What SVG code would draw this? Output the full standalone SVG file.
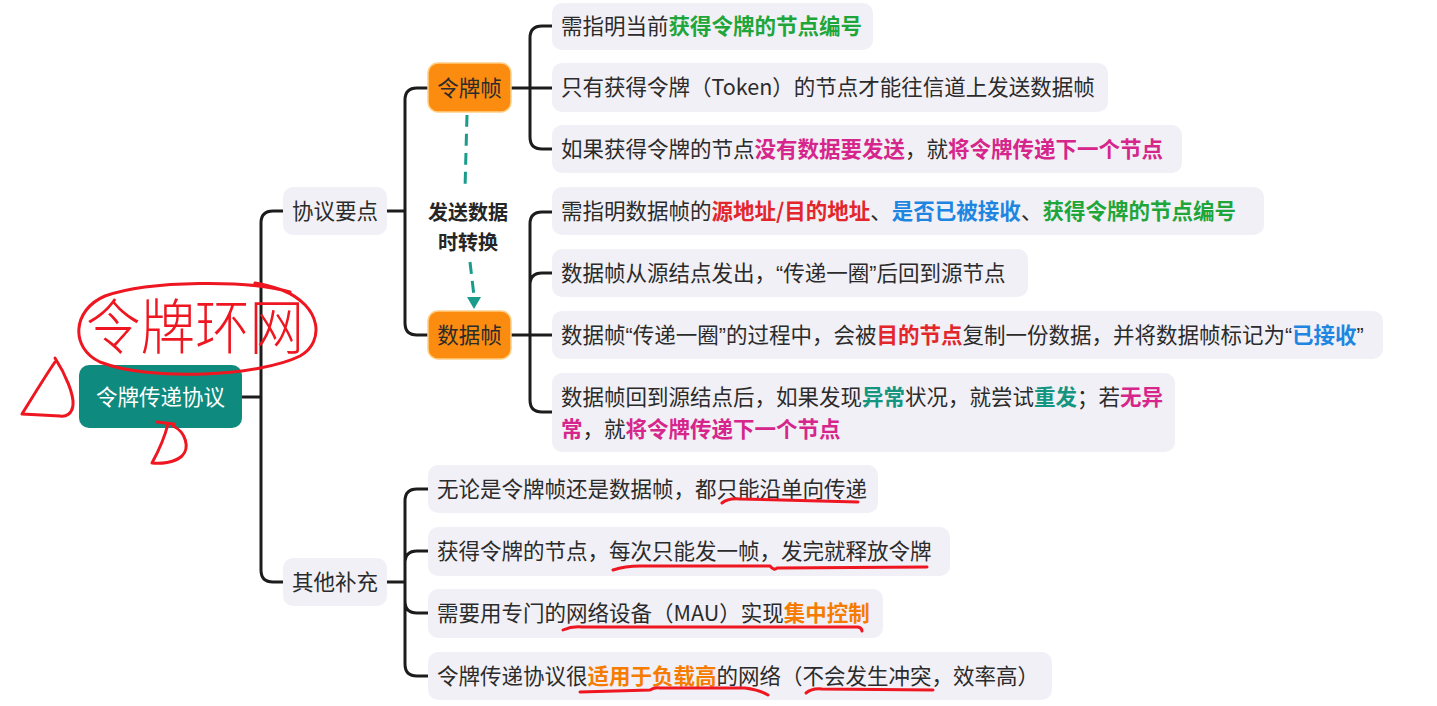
<svg xmlns="http://www.w3.org/2000/svg" width="1437" height="706" viewBox="0 0 1437 706">
<style>
  text { font-family: "Noto Sans CJK SC", "Noto Sans", sans-serif; font-size: 21.5px; fill: #2b2b2b; }
  .q { font-family: "Liberation Sans", "Noto Sans", sans-serif; }
  .box { fill: #f1f0f6; }
  .frame { fill: #fb8c10; stroke: #ffcf85; stroke-width: 1.5; }
  .root { fill: #0f8a7e; }
  .conn { fill: none; stroke: #1c1c1c; stroke-width: 3; stroke-linecap: round; stroke-linejoin: round; }
  .dash { fill: none; stroke: #1a9c8c; stroke-width: 3; stroke-dasharray: 12 7; }
  .ink { fill: none; stroke: #ee1620; stroke-width: 3; stroke-linecap: round; stroke-linejoin: round; }
  .g { fill: #1fa63a; font-weight: 700; }
  .m { fill: #d6268b; font-weight: 700; }
  .r { fill: #e3262c; font-weight: 700; }
  .b { fill: #1e86e0; font-weight: 700; }
  .t { fill: #14957f; font-weight: 700; }
  .o { fill: #f57c00; font-weight: 700; }
  .c { text-anchor: middle; }
</style>

<g id="connectors">
  <path class="conn" d="M241,397 H261 M261,397 V223 Q261,211 273,211 H283 M261,397 V570 Q261,582 273,582 H283"/>
  <path class="conn" d="M387,211 H405 M405,211 V100 Q405,88 417,88 H428 M405,211 V323 Q405,335 417,335 H428"/>
  <path class="conn" d="M511,88 H552 M530,88 V38 Q530,26 542,26 H552 M530,88 V137 Q530,149 542,149 H552"/>
  <path class="conn" d="M511,335 H552 M530,335 V224 Q530,212 542,212 H552 M530,335 V285 Q530,273 542,273 H552 M530,335 V400 Q530,412 542,412 H552"/>
  <path class="conn" d="M387,582 H405 M405,582 V501 Q405,489 417,489 H428 M405,582 V563 Q405,551 417,551 H428 M405,582 V601 Q405,613 417,613 H428 M405,582 V664 Q405,676 417,676 H428"/>
  <g id="switch-arrow">
    <path class="dash" d="M467,115 Q466,150 465,190"/>
    <path class="dash" d="M470,262 L474,296"/>
    <polygon points="467,297 481,297 474,309" fill="#1a9c8c"/>
    <text x="468" y="220" class="c" style="font-size:20px;font-weight:700;fill:#262626">发送数据</text>
    <text x="468" y="250" class="c" style="font-size:20px;font-weight:700;fill:#262626">时转换</text>
  </g>
</g>

<g id="root">
  <rect class="root" x="79" y="365" width="163" height="63" rx="10"/>
  <text x="160.5" y="405" class="c" style="fill:#ffffff">令牌传递协议</text>
</g>

<g id="n-points">
  <rect class="box" x="283" y="187" width="104" height="48" rx="10"/>
  <text x="335" y="219" class="c">协议要点</text>
</g>
<g id="n-other">
  <rect class="box" x="283" y="558" width="104" height="48" rx="10"/>
  <text x="335" y="590" class="c">其他补充</text>
</g>

<g id="n-token">
  <rect class="frame" x="428" y="63" width="83" height="49" rx="10"/>
  <text x="469.5" y="96" class="c">令牌帧</text>
</g>
<g id="n-data">
  <rect class="frame" x="428" y="311" width="83" height="48" rx="10"/>
  <text x="469.5" y="343" class="c">数据帧</text>
</g>

<g id="t1">
  <rect class="box" x="552" y="3" width="321" height="47" rx="10"/>
  <text x="561" y="34">需指明当前<tspan class="g">获得令牌的节点编号</tspan></text>
</g>
<g id="t2">
  <rect class="box" x="552" y="63" width="556" height="49" rx="10"/>
  <text x="561" y="95">只有获得令牌（Token）的节点才能往信道上发送数据帧</text>
</g>
<g id="t3">
  <rect class="box" x="552" y="125" width="630" height="48" rx="10"/>
  <text x="561" y="157">如果获得令牌的节点<tspan class="m">没有数据要发送</tspan>，就<tspan class="m">将令牌传递下一个节点</tspan></text>
</g>

<g id="d1">
  <rect class="box" x="552" y="187" width="712" height="48" rx="10"/>
  <text x="561" y="219">需指明数据帧的<tspan class="r">源地址/目的地址</tspan>、<tspan class="b">是否已被接收</tspan>、<tspan class="g">获得令牌的节点编号</tspan></text>
</g>
<g id="d2">
  <rect class="box" x="552" y="249" width="476" height="48" rx="10"/>
  <text x="561" y="281">数据帧从源结点发出，<tspan class="q">“</tspan>传递一圈<tspan class="q">”</tspan>后回到源节点</text>
</g>
<g id="d3">
  <rect class="box" x="552" y="311" width="831" height="48" rx="10"/>
  <text x="561" y="343">数据帧<tspan class="q">“</tspan>传递一圈<tspan class="q">”</tspan>的过程中，会被<tspan class="r">目的节点</tspan>复制一份数据，并将数据帧标记为<tspan class="q">“</tspan><tspan class="b">已接收</tspan><tspan class="q">”</tspan></text>
</g>
<g id="d4">
  <rect class="box" x="552" y="373" width="623" height="79" rx="10"/>
  <text x="561" y="405">数据帧回到源结点后，如果发现<tspan class="t">异常</tspan>状况，就尝试<tspan class="t">重发</tspan>；若<tspan class="m">无异</tspan></text>
  <text x="561" y="437"><tspan class="m">常</tspan>，就<tspan class="m">将令牌传递下一个节点</tspan></text>
</g>

<g id="o1">
  <rect class="box" x="428" y="465" width="450" height="48" rx="10"/>
  <text x="437" y="497">无论是令牌帧还是数据帧，都只能沿单向传递</text>
</g>
<g id="o2">
  <rect class="box" x="428" y="527" width="522" height="49" rx="10"/>
  <text x="437" y="559">获得令牌的节点，每次只能发一帧，发完就释放令牌</text>
</g>
<g id="o3">
  <rect class="box" x="428" y="589" width="455" height="49" rx="10"/>
  <text x="437" y="621">需要用专门的网络设备（MAU）实现<tspan class="o">集中控制</tspan></text>
</g>
<g id="o4">
  <rect class="box" x="428" y="652" width="624" height="48" rx="10"/>
  <text x="437" y="684">令牌传递协议很<tspan class="o">适用于负载高</tspan>的网络（不会发生冲突，效率高）</text>
</g>

<g id="annotations">
  <text x="86" y="349" textLength="218" lengthAdjust="spacingAndGlyphs" style="font-size:60px;font-weight:200;fill:#ee1620">令牌环网</text>
  <path class="ink" d="M290,292 C250,280 150,280 105,296 C72,310 70,348 100,362 C150,382 260,376 300,356 C325,342 322,306 282,290 C270,286 262,284 255,283"/>
  <path class="ink" d="M55,358 C66,375 74,395 73,405 C72,414 66,417 60,416 L22,414 C32,398 44,378 55,362"/>
  <path class="ink" d="M157,422 L174,424 M168,424 C164,440 158,452 152,463 M173,426 C186,432 190,448 182,456 C174,463 160,464 152,463"/>
  <path class="ink" d="M722,503 Q728,498 740,499 L858,502"/>
  <path class="ink" d="M613,570 Q625,566 640,566 L770,566 Q774,571 777,568 L927,567"/>
  <path class="ink" d="M563,630 Q572,626 582,627 L858,627 Q862,628 862,631"/>
  <path class="ink" d="M580,692 L650,690 Q655,687 660,688 L745,688 Q760,690 768,695"/>
  <path class="ink" d="M806,693 Q812,688 822,689 L933,690"/>
</g>
</svg>
